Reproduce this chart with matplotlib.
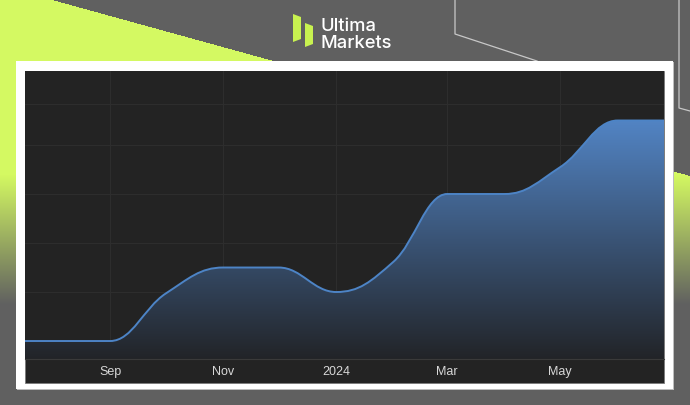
import numpy as np
import matplotlib
matplotlib.use("Agg")
import matplotlib.pyplot as plt
import matplotlib.dates as mdates
from matplotlib.path import Path
from matplotlib.patches import PathPatch, Rectangle, Polygon

# ---- data ----
dates = ["2023-07-01", "2023-08-01", "2023-09-01", "2023-10-01", "2023-11-01",
         "2023-12-01", "2024-01-01", "2024-02-01", "2024-03-01", "2024-04-01",
         "2024-05-01", "2024-06-01", "2024-07-01"]
values = [1.0, 1.0, 1.0, 1.97, 2.5, 2.5, 2.0, 2.62, 4.0, 4.0, 4.55, 5.5, 5.5]
tick_dates = ["2023-09-01", "2023-11-01", "2024-01-01", "2024-03-01", "2024-05-01"]
tick_labels = ["Sep", "Nov", "2024", "Mar", "May"]
grid_values = [1, 2, 3, 4, 5, 5.84]
x_range = ["2023-07-17", "2024-06-26"]
y_range = (0.633, 6.51)

W, H = 690, 406
fig = plt.figure(figsize=(W / 100, H / 100), dpi=100)

# ---- page background ----
bg = fig.add_axes([0, 0, 1, 1])
bg.set_xlim(0, W)
bg.set_ylim(H, 0)
bg.axis("off")

gray = np.array([96, 96, 96]) / 255
lime = np.array([212, 249, 98]) / 255
yy, xx = np.mgrid[0:H, 0:W]
mask = yy > 0.276 * (xx - 50)
t = np.clip((yy - 175) / (305 - 175), 0, 1)
alpha = np.where(mask, 1 - t, 0.0)[..., None]
img = gray * (1 - alpha) + lime * alpha
bg.imshow(img, extent=(0, W, H, 0), interpolation="bilinear", zorder=0)

# thin decorative lines
bg.plot([455, 455, 537], [0, 35, 62], color="#c8c8c8", lw=0.9, zorder=1)
bg.plot([679, 679, 690], [0, 109, 112], color="#c8c8c8", lw=0.9, zorder=1)

# white card + dark panel
bg.add_patch(Rectangle((17, 63), 657, 328, facecolor="#bdbdbd", edgecolor="none", zorder=2))
bg.add_patch(Rectangle((16, 62), 657, 328, facecolor="white", edgecolor="none", zorder=3))
bg.add_patch(Rectangle((25, 72), 639, 312, facecolor="#232323", edgecolor="#7a7a7a",
                       lw=0.6, zorder=4))

# logo
bg.add_patch(Polygon([(293, 15), (301, 18), (301, 40), (293, 43)], closed=True,
                     facecolor="#c8f250", edgecolor="none", zorder=5))
bg.add_patch(Polygon([(305, 24), (313, 27), (313, 45), (305, 48)], closed=True,
                     facecolor="#c8f250", edgecolor="none", zorder=5))
bg.text(321, 31, "Ultima", color="white", fontsize=13.2, family="Inter",
        fontweight="medium", va="baseline", ha="left", zorder=5)
bg.text(321, 47.5, "Markets", color="white", fontsize=13.2, family="Inter",
        fontweight="medium", va="baseline", ha="left", zorder=5)

# ---- chart ----
ax = fig.add_axes([25 / W, 1 - 360 / H, 639 / W, 288 / H])
ax.set_facecolor("#232323")
x = mdates.date2num([np.datetime64(d) for d in dates])
y = np.array(values, dtype=float)


def spline_path(xs, ys, smoothing=1.5):
    """Smooth curve through the points using spline-style control points."""
    denom = smoothing + 1
    n = len(xs)
    lc = [None] * n
    rc = [None] * n
    for i in range(n):
        if i == 0 or i == n - 1:
            lc[i] = rc[i] = (xs[i], ys[i])
            continue
        px, py = xs[i], ys[i]
        lx, ly = xs[i - 1], ys[i - 1]
        nx, ny = xs[i + 1], ys[i + 1]
        lcx = (smoothing * px + lx) / denom
        lcy = (smoothing * py + ly) / denom
        rcx = (smoothing * px + nx) / denom
        rcy = (smoothing * py + ny) / denom
        corr = (rcy - lcy) * (rcx - px) / (rcx - lcx) + py - rcy
        lcy += corr
        rcy += corr
        if lcy > ly and lcy > py:
            lcy = max(ly, py); rcy = 2 * py - lcy
        elif lcy < ly and lcy < py:
            lcy = min(ly, py); rcy = 2 * py - lcy
        if rcy > ny and rcy > py:
            rcy = max(ny, py); lcy = 2 * py - rcy
        elif rcy < ny and rcy < py:
            rcy = min(ny, py); lcy = 2 * py - rcy
        lc[i] = (lcx, lcy)
        rc[i] = (rcx, rcy)
    verts = [(xs[0], ys[0])]
    codes = [Path.MOVETO]
    for i in range(1, n):
        verts += [rc[i - 1], lc[i], (xs[i], ys[i])]
        codes += [Path.CURVE4] * 3
    return verts, codes


verts, codes = spline_path(x, y)
line_path = Path(verts, codes)
base = y_range[0]
area_path = Path(verts + [(x[-1], base), (x[0], base), (x[0], y[0])],
                 codes + [Path.LINETO, Path.LINETO, Path.CLOSEPOLY])

# gradient fill under the curve
top_c = np.array([82, 132, 196]) / 255
bot_c = np.array([34, 36, 40]) / 255
g = np.linspace(0, 1, 256)[:, None]
grad = top_c * (1 - g[..., None]) + bot_c * g[..., None]
grad = np.repeat(grad, 2, axis=1)
clip = PathPatch(area_path, facecolor="none", edgecolor="none")
ax.add_patch(clip)
im = ax.imshow(grad, extent=(x[0], x[-1], base, y.max()), aspect="auto",
               origin="upper", zorder=1, interpolation="bilinear")
im.set_clip_path(clip)
ax.add_patch(PathPatch(line_path, facecolor="none", edgecolor="#4d84c6", lw=1.4,
                       zorder=3, capstyle="round", joinstyle="round"))

ax.set_xlim(mdates.date2num(np.datetime64(x_range[0])), mdates.date2num(np.datetime64(x_range[1])))
ax.set_ylim(*y_range)
ax.set_xticks(mdates.date2num([np.datetime64(d) for d in tick_dates]))
ax.set_xticklabels(tick_labels)
ax.set_yticks(grid_values)
ax.tick_params(axis="x", length=0, pad=4, labelsize=9, labelcolor="#d8d8d8")
ax.tick_params(axis="y", length=0, labelleft=False)
for lab in ax.get_xticklabels():
    lab.set_family("Liberation Sans")
ax.grid(True, color="#2d2d2d", lw=0.8, zorder=0)
ax.set_axisbelow(True)
for s in ("top", "left", "right"):
    ax.spines[s].set_visible(False)
ax.spines["bottom"].set_color("#3a3a3a")
ax.spines["bottom"].set_linewidth(0.8)

fig.savefig("out.png", dpi=100)
